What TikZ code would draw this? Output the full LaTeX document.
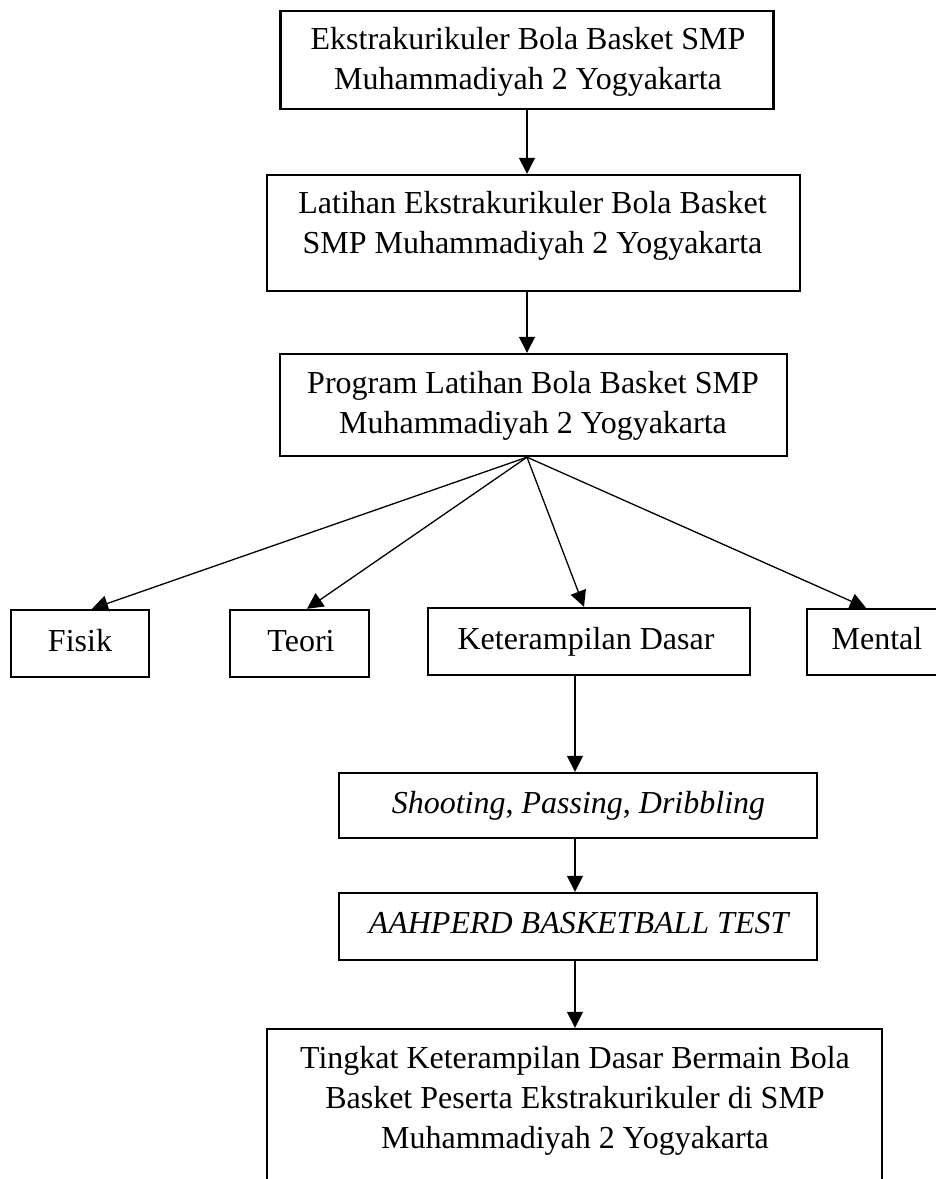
\documentclass[tikz,border=0pt]{standalone}
\usepackage{fontspec}
\setmainfont{Liberation Serif}
\usetikzlibrary{arrows.meta}
\tikzset{
  boxst/.style={draw, line width=2.4pt, inner sep=0pt},
  txt/.style={font=\fontsize{32}{40}\selectfont, align=center, inner sep=0pt},
  arr/.style={line width=1.3pt, -{Triangle[length=16pt,width=16pt]}}
}
\begin{document}
\begin{tikzpicture}[x=1pt,y=-1pt]
\useasboundingbox (0,0) rectangle (936,1179);
\clip (0,0) rectangle (936,1179);
% boxes
\node[boxst, minimum width=493pt, minimum height=98pt] (b1) at (527,60) {};
\node[boxst, minimum width=533pt, minimum height=116pt] (b2) at (533.5,233) {};
\node[boxst, minimum width=507pt, minimum height=102pt] (b3) at (533.5,405) {};
\node[boxst, minimum width=138pt, minimum height=67pt] (fisik) at (80,643.5) {};
\node[boxst, minimum width=139pt, minimum height=67pt] (teori) at (299.5,643.5) {};
\node[boxst, minimum width=322.5pt, minimum height=67pt] (ket) at (589,641.5) {};
\node[boxst, minimum width=150pt, minimum height=66pt] (mental) at (882,642) {};
\node[boxst, minimum width=478pt, minimum height=65pt] (shoot) at (578,805.5) {};
\node[boxst, minimum width=478pt, minimum height=67pt] (aah) at (578,926.5) {};
\node[boxst, minimum width=615pt, minimum height=170pt] (final) at (574.5,1114) {};
% texts
\node[txt] (t1) at (528,62) {Ekstrakurikuler Bola Basket SMP\\Muhammadiyah 2 Yogyakarta};
\node[txt] (t2) at (532.5,225.5) {Latihan Ekstrakurikuler Bola Basket\\SMP Muhammadiyah 2 Yogyakarta};
\node[txt] (t3) at (533,405.5) {Program Latihan Bola Basket SMP\\Muhammadiyah 2 Yogyakarta};
\node[txt, anchor=base] (tf) at (80,651) {Fisik};
\node[txt, anchor=base] (tt) at (301,651) {Teori};
\node[txt, anchor=base] (tk) at (586,649) {Keterampilan Dasar};
\node[txt, anchor=base] (tm) at (877,649) {Mental};
\node[txt, anchor=base] (ts) at (578.5,813) {\textit{Shooting}, \textit{Passing}, \textit{Dribbling}};
\node[txt, anchor=base] (ta) at (579.5,933) {\textit{AAHPERD BASKETBALL TEST}};
\node[txt] (tfin) at (575,1100.5) {Tingkat Keterampilan Dasar Bermain Bola\\Basket Peserta Ekstrakurikuler di SMP\\Muhammadiyah 2 Yogyakarta};
% connectors
\coordinate (fan) at (b3.south -| b1.south);
\draw[arr] (b1.south) -- (b1.south |- b2.north);
\draw[arr] (b2.south -| b1.south) -- (b3.north -| b1.south);
\draw[arr] (fan) -- ([xshift=12pt]fisik.north);
\draw[arr] (fan) -- ([xshift=7.5pt]teori.north);
\draw[arr] (fan) -- ([xshift=-5pt]ket.north);
\draw[arr] (fan) -- ([xshift=-16pt]mental.north);
\coordinate (sx) at ([xshift=-3pt]shoot.north);
\draw[arr] (sx |- ket.south) -- (sx);
\draw[arr] (sx |- shoot.south) -- (sx |- aah.north);
\draw[arr] (sx |- aah.south) -- (sx |- final.north);
\end{tikzpicture}
\end{document}
